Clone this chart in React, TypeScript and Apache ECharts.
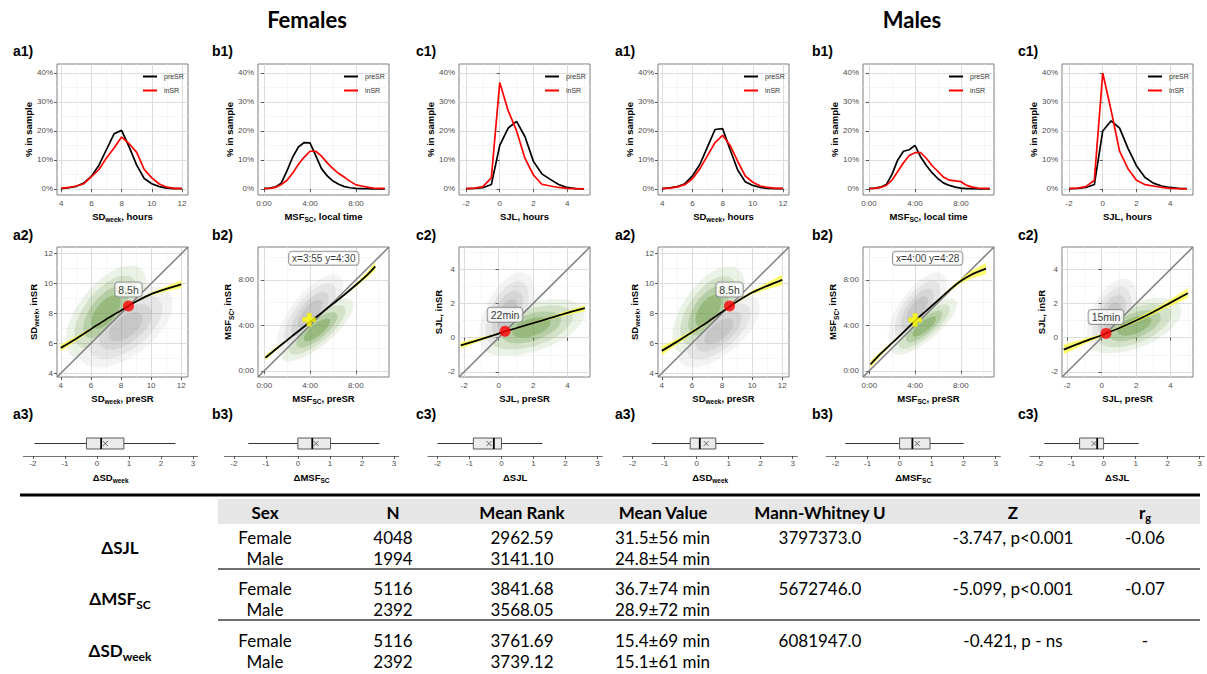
import React, { useEffect, useRef } from "react";
import * as echarts from "echarts";

const FONT = "'Liberation Sans', Arial, sans-serif";
const TFONT = "Lato, 'Open Sans', sans-serif";
const TICK = "#4d4d4d";

// ---------------- Row 1 : distributions (% in sample) ----------------
const sdBins = [4, 4.5, 5, 5.5, 6, 6.5, 7, 7.5, 8, 8.5, 9, 9.5, 10, 10.5, 11, 11.5, 12];
const sdPreF = [0.1, 0.4, 0.9, 2.0, 4.4, 8.2, 13.6, 19.0, 20.2, 14.5, 8.2, 3.6, 1.8, 0.8, 0.3, 0.1, 0.1];
const sdInF = [0.2, 0.5, 1.0, 1.8, 4.2, 6.7, 10.7, 14.1, 17.9, 15.6, 12.6, 6.7, 3.8, 1.7, 0.6, 0.2, 0.2];
const sdPreM = [0.1, 0.4, 0.8, 1.8, 4.5, 8.5, 14.5, 20.5, 20.8, 13.5, 6.5, 2.5, 1.2, 0.5, 0.2, 0.1, 0.1];
const sdInM = [0.1, 0.3, 0.7, 1.5, 3.5, 7.0, 11.5, 16.0, 18.5, 15.0, 9.5, 4.5, 2.3, 1.0, 0.5, 0.2, 0.2];

const msfBins = [0, 0.5, 1, 1.5, 2, 2.5, 3, 3.5, 4, 4.5, 5, 5.5, 6, 6.5, 7, 7.5, 8, 8.5, 9, 9.5, 10, 10.5];
const msfPreF = [0.2, 0.3, 0.7, 2.0, 6.2, 11.0, 14.5, 16.0, 15.9, 11.5, 7.0, 4.5, 2.7, 1.6, 0.8, 0.4, 0.2, 0.1, 0.1, 0, 0, 0];
const msfInF = [0.1, 0.2, 0.5, 1.5, 3.0, 5.5, 8.5, 11.0, 13.0, 13.0, 11.3, 9.0, 7.0, 5.3, 4.0, 2.6, 1.4, 1.0, 0.6, 0.3, 0.2, 0.2];
const msfPreM = [0.2, 0.3, 0.6, 1.5, 5.0, 10.0, 13.0, 13.5, 15.0, 11.0, 8.0, 5.5, 3.5, 2.0, 1.2, 0.6, 0.3, 0.1, 0.1, 0, 0, 0];
const msfInM = [0.1, 0.2, 0.5, 1.2, 3.0, 6.0, 9.0, 11.5, 12.5, 12.5, 10.5, 8.0, 6.0, 4.0, 3.0, 2.8, 2.5, 1.2, 0.6, 0.3, 0.2, 0.2];

const sjlBins = [-2, -1.5, -1, -0.5, 0, 0.5, 1, 1.5, 2, 2.5, 3, 3.5, 4, 4.5, 5];
const sjlPreF = [0.1, 0.2, 0.4, 1.5, 15.0, 21.0, 23.3, 18.0, 9.5, 5.2, 3.3, 1.5, 0.5, 0.1, 0];
const sjlInF = [0.1, 0.3, 0.8, 3.8, 36.7, 27.0, 20.0, 10.5, 4.8, 1.6, 1.0, 0.5, 0.2, 0.1, 0];
const sjlPreM = [0.1, 0.2, 0.5, 1.5, 20.0, 23.5, 21.0, 14.0, 8.0, 4.0, 2.0, 1.0, 0.5, 0.2, 0.1];
const sjlInM = [0.1, 0.3, 0.8, 3.0, 40.0, 27.0, 13.0, 7.0, 3.0, 1.5, 1.0, 0.5, 0.2, 0.1, 0];

// ---------------- Row 2 : preSR vs inSR ----------------
// point clouds summarised as [centreX, centreY, semiMajor, semiMinor, angleDeg]
const cloudFaGreen = [7.0, 8.1, 3.7, 1.8, 52];
const cloudFaGray = [8.3, 7.1, 3.7, 1.9, 38];
const cloudFbGray = [4.0, 5.0, 4.2, 1.7, 52];
const cloudFbGreen = [4.6, 3.6, 4.0, 1.4, 40];
const cloudFcGray = [0.5, 1.4, 2.6, 1.3, 65];
const cloudFcGreen = [1.9, 0.6, 3.2, 1.4, 18];
const cloudMaGreen = [7.1, 8.2, 3.4, 1.7, 55];
const cloudMaGray = [7.8, 6.8, 3.3, 1.5, 40];
const cloudMbGray = [4.2, 5.4, 3.8, 1.6, 55];
const cloudMbGreen = [4.8, 3.9, 3.6, 1.2, 40];
const cloudMcGray = [0.6, 1.3, 2.3, 1.2, 65];
const cloudMcGreen = [1.9, 0.7, 2.9, 1.3, 22];

// loess fits: x, fitted y, half width of confidence band
const fitFaX = [4, 5, 6, 7, 8, 8.5, 9, 10, 11, 12];
const fitFaY = [5.7, 6.3, 6.95, 7.6, 8.2, 8.5, 8.8, 9.3, 9.65, 9.95];
const fitFaW = [0.22, 0.15, 0.1, 0.07, 0.06, 0.06, 0.07, 0.1, 0.16, 0.25];
const fitMaX = [4, 5, 6, 7, 8, 8.5, 9, 10, 11, 12];
const fitMaY = [5.5, 6.1, 6.75, 7.4, 8.1, 8.45, 8.8, 9.4, 9.85, 10.25];
const fitMaW = [0.3, 0.2, 0.12, 0.08, 0.07, 0.07, 0.08, 0.12, 0.22, 0.35];
const fitFbX = [0.1, 1, 2, 3, 4, 5, 6, 7, 8, 9, 9.7];
const fitFbY = [1.15, 1.9, 2.7, 3.5, 4.3, 5.1, 5.9, 6.7, 7.55, 8.45, 9.2];
const fitFbW = [0.22, 0.15, 0.08, 0.05, 0.04, 0.05, 0.07, 0.1, 0.15, 0.25, 0.35];
const fitMbX = [0.1, 1, 2, 3, 4, 5, 6, 7, 8, 9, 10.2];
const fitMbY = [0.55, 1.5, 2.45, 3.4, 4.4, 5.3, 6.2, 7.1, 7.9, 8.5, 9.0];
const fitMbW = [0.3, 0.2, 0.12, 0.07, 0.06, 0.07, 0.09, 0.13, 0.2, 0.35, 0.5];
const fitFcX = [-2.2, -1, 0, 0.37, 1, 2, 3, 4, 5];
const fitFcY = [-0.45, -0.08, 0.24, 0.37, 0.55, 0.85, 1.15, 1.45, 1.72];
const fitFcW = [0.18, 0.1, 0.05, 0.05, 0.05, 0.06, 0.08, 0.12, 0.17];
const fitMcX = [-2.2, -1, 0, 0.25, 1, 2, 3, 4, 5];
const fitMcY = [-0.7, -0.22, 0.14, 0.25, 0.55, 1.0, 1.5, 2.05, 2.6];
const fitMcW = [0.28, 0.15, 0.08, 0.07, 0.08, 0.1, 0.14, 0.2, 0.28];

// highlighted points [x, y] and their labels
const markFa = [8.5, 8.5];
const markMa = [8.5, 8.5];
const markFb = [3.92, 4.5];
const markMb = [4.0, 4.47];
const markFc = [0.37, 0.37];
const markMc = [0.25, 0.25];
const labelFa = "8.5h";
const labelMa = "8.5h";
const labelFb = "x=3:55 y=4:30";
const labelMb = "x=4:00 y=4:28";
const labelFc = "22min";
const labelMc = "15min";
const labelPosFb = [5.2, 9.9];
const labelPosMb = [5.1, 9.9];

// ---------------- Row 3 : change boxplots [min, Q1, median, Q3, max, mean] ----------------
const boxFa = [-1.95, -0.33, 0.13, 0.84, 2.45, 0.26];
const boxFb = [-1.55, 0, 0.45, 1.02, 2.55, 0.57];
const boxFc = [-2.0, -0.88, -0.24, 0, 1.28, -0.39];
const boxMa = [-1.4, -0.2, 0.1, 0.6, 2.1, 0.3];
const boxMb = [-1.7, 0, 0.4, 0.95, 2.0, 0.55];
const boxMc = [-1.85, -0.75, -0.2, 0, 1.1, -0.3];

// ---------------- Table ----------------
const tblHeaders = ["Sex", "N", "Mean Rank", "Mean Value", "Mann-Whitney U", "Z"];
const tblVars = [["ΔSJL", ""], ["ΔMSF", "SC"], ["ΔSD", "week"]];
const tblSex = ["Female", "Male"];
const tblN = [["4048", "1994"], ["5116", "2392"], ["5116", "2392"]];
const tblRank = [["2962.59", "3141.10"], ["3841.68", "3568.05"], ["3761.69", "3739.12"]];
const tblMean = [["31.5±56 min", "24.8±54 min"], ["36.7±74 min", "28.9±72 min"], ["15.4±69 min", "15.1±61 min"]];
const tblU = ["3797373.0", "5672746.0", "6081947.0"];
const tblZ = ["-3.747, p<0.001", "-5.099, p<0.001", "-0.421, p - ns"];
const tblR = ["-0.06", "-0.07", "-"];

// ------------------------------------------------------------
const RICH = {
  b: { fontSize: 9.5, fontWeight: "bold", color: "#000", fontFamily: FONT, lineHeight: 14 },
  s: { fontSize: 6.5, fontWeight: "bold", color: "#000", fontFamily: FONT, lineHeight: 8, verticalAlign: "bottom" },
};
const nm = (a: string, s?: string, r?: string) => `{b|${a}}` + (s ? `{s|${s}}` : "") + (r ? `{b|${r}}` : "");
const hm = (v: number) => `${Math.floor(v)}:${String(Math.round((v - Math.floor(v)) * 60)).padStart(2, "0")}`;

function ellipseHalf(c: number[], above: boolean, scale: number) {
  const [cx, cy, a, b, ang] = c;
  const phi = (ang * Math.PI) / 180;
  const pts: number[][] = [];
  for (let k = 0; k < 48; k++) {
    const t = (2 * Math.PI * k) / 48;
    const ex = a * scale * Math.cos(t);
    const ey = b * scale * Math.sin(t);
    pts.push([cx + ex * Math.cos(phi) - ey * Math.sin(phi), cy + ex * Math.sin(phi) + ey * Math.cos(phi)]);
  }
  const sg = above ? 1 : -1;
  const out: number[][] = [];
  for (let i = 0; i < pts.length; i++) {
    const cur = pts[i];
    const prev = pts[(i + pts.length - 1) % pts.length];
    const dc = sg * (cur[1] - cur[0]);
    const dp = sg * (prev[1] - prev[0]);
    const inter = () => {
      const t = dp / (dp - dc);
      return [prev[0] + t * (cur[0] - prev[0]), prev[1] + t * (cur[1] - prev[1])];
    };
    if (dc >= 0) {
      if (dp < 0) out.push(inter());
      out.push(cur);
    } else if (dp >= 0) out.push(inter());
  }
  return out;
}

function buildOption() {
  const grid: any[] = [];
  const xAxis: any[] = [];
  const yAxis: any[] = [];
  const series: any[] = [];
  const legend: any[] = [];
  const graphic: any[] = [];

  const valAxis = (gi: number, range: number[], maj: number[], fmt: any, name: string, gap: number, isY: boolean) => ({
    type: "value",
    gridIndex: gi,
    min: range[0],
    max: range[1],
    axisLine: { show: false },
    axisTick: { show: true, customValues: maj, length: 3, lineStyle: { color: "#333", width: 0.8 } },
    axisLabel: { show: true, customValues: maj, formatter: fmt, fontSize: 8, color: TICK, fontFamily: FONT, margin: 4 },
    splitLine: { show: true, lineStyle: { color: "#d9d9d9", width: 0.9 } },
    name,
    nameLocation: "middle",
    nameGap: gap,
    nameRotate: isY ? 90 : 0,
    nameTextStyle: { rich: RICH },
  });
  const minorSeries = (gi: number, mx: number[], my: number[]) => ({
    type: "line",
    xAxisIndex: gi,
    yAxisIndex: gi,
    data: [],
    silent: true,
    z: 1,
    markLine: {
      silent: true,
      z: 1,
      symbol: ["none", "none"],
      label: { show: false },
      emphasis: { disabled: true },
      lineStyle: { color: "#efefef", width: 0.6, type: "solid" },
      data: [...mx.map((v) => ({ xAxis: v })), ...my.map((v) => ({ yAxis: v }))],
    },
  });
  const addGrid = (left: number, top: number, width: number, height: number, frame: boolean) => {
    grid.push({
      left, top, width, height, containLabel: false,
      show: frame, borderColor: "#7f7f7f", borderWidth: 1, backgroundColor: "#fff",
    });
    return grid.length - 1;
  };
  const panelLabel = (x: number, y: number, t: string) =>
    graphic.push({ type: "text", x, y, silent: true, style: { text: t, fill: "#000", font: `bold 14px ${FONT}`, verticalAlign: "middle" } });

  const cols = [
    {
      key: "a", r1: [3.72, 12.4], r2: [3.75, 12.45], maj: [4, 6, 8, 10, 12], mnr: [5, 7, 9, 11], fmt: (v: number) => String(v),
      t1: nm("SD", "week", ", hours"), t2x: nm("SD", "week", ", preSR"), t2y: nm("SD", "week", ", inSR"), t3: nm("ΔSD", "week"),
    },
    {
      key: "b", r1: [-0.52, 10.87], r2: [-0.55, 10.9], maj: [0, 4, 8], mnr: [2, 6, 10], fmt: hm,
      t1: nm("MSF", "SC", ", local time"), t2x: nm("MSF", "SC", ", preSR"), t2y: nm("MSF", "SC", ", inSR"), t3: nm("ΔMSF", "SC"),
    },
    {
      key: "c", r1: [-2.42, 5.36], r2: [-2.3, 5.3], maj: [-2, 0, 2, 4], mnr: [-1, 1, 3, 5], fmt: (v: number) => String(v),
      t1: nm("SJL, hours"), t2x: nm("SJL, preSR"), t2y: nm("SJL, inSR"), t3: nm("ΔSJL"),
    },
  ];
  const dists = [
    [[sdBins, sdPreF, sdInF], [msfBins, msfPreF, msfInF], [sjlBins, sjlPreF, sjlInF]],
    [[sdBins, sdPreM, sdInM], [msfBins, msfPreM, msfInM], [sjlBins, sjlPreM, sjlInM]],
  ];
  const clouds = [
    [[cloudFaGreen, cloudFaGray], [cloudFbGreen, cloudFbGray], [cloudFcGreen, cloudFcGray]],
    [[cloudMaGreen, cloudMaGray], [cloudMbGreen, cloudMbGray], [cloudMcGreen, cloudMcGray]],
  ];
  const greenAbove = [true, false, false];
  const fits = [
    [[fitFaX, fitFaY, fitFaW], [fitFbX, fitFbY, fitFbW], [fitFcX, fitFcY, fitFcW]],
    [[fitMaX, fitMaY, fitMaW], [fitMbX, fitMbY, fitMbW], [fitMcX, fitMcY, fitMcW]],
  ];
  const marks = [[markFa, markFb, markFc], [markMa, markMb, markMc]];
  const labels = [[labelFa, labelFb, labelFc], [labelMa, labelMb, labelMc]];
  const labelPosB = [labelPosFb, labelPosMb];
  const boxes = [[boxFa, boxFb, boxFc], [boxMa, boxMb, boxMc]];

  const left12 = [[57, 258, 459], [658, 863, 1062]];
  const left3 = [[23.4, 224.3, 427.9], [623, 826, 1030]];
  const labX = [[13, 212, 416], [615, 812, 1018]];

  const layerScale = [1.0, 0.78, 0.56, 0.36];
  const greenAlpha = [0.12, 0.17, 0.27, 0.4];
  const grayAlpha = [0.1, 0.13, 0.18, 0.24];

  for (let sx = 0; sx < 2; sx++) {
    for (let ci = 0; ci < 3; ci++) {
      const col = cols[ci];
      const L = left12[sx][ci];
      // ---------- row 1 ----------
      {
        const gi = addGrid(L, 64, 131, 131, true);
        xAxis.push(valAxis(gi, col.r1, col.maj, col.fmt, col.t1, 14, false));
        yAxis.push(valAxis(gi, [-2.1, 43.1], [0, 10, 20, 30, 40], (v: number) => v + "%", nm("% in sample"), 15, true));
        series.push(minorSeries(gi, col.mnr, [5, 15, 25, 35]));
        const [bins, pre, ins] = dists[sx][ci];
        series.push({
          type: "line", name: "preSR", xAxisIndex: gi, yAxisIndex: gi, silent: true, z: 5,
          data: bins.map((b, i) => [b, pre[i]]), symbol: "none",
          lineStyle: { color: "#000", width: 1.7 }, itemStyle: { color: "#000" },
        });
        series.push({
          type: "line", name: "inSR", xAxisIndex: gi, yAxisIndex: gi, silent: true, z: 5,
          data: bins.map((b, i) => [b, ins[i]]), symbol: "none",
          lineStyle: { color: "#ff0000", width: 1.7 }, itemStyle: { color: "#ff0000" },
        });
        legend.push({
          data: ["preSR", "inSR"], orient: "vertical", left: L + 86, top: 73, icon: "rect", itemWidth: 14, itemHeight: 2, itemGap: 7,
          padding: 0, selectedMode: false, textStyle: { fontSize: 7, color: "#333", fontFamily: FONT, padding: [0, 0, 0, 2] },
        });
        panelLabel(labX[sx][ci], 51, `${col.key}1)`);
      }
      // ---------- row 2 ----------
      {
        const gi = addGrid(L, 247, 131, 130, true);
        xAxis.push(valAxis(gi, col.r2, col.maj, col.fmt, col.t2x, 14, false));
        yAxis.push(valAxis(gi, col.r2, col.maj, col.fmt, col.t2y, ci === 1 ? 12 : 11, true));
        series.push(minorSeries(gi, col.mnr, col.mnr));
        const [cg, cy] = clouds[sx][ci];
        const layers: any[] = [];
        [cy, cg].forEach((c, k) => {
          const isGreen = k === 1;
          const above = isGreen ? greenAbove[ci] : !greenAbove[ci];
          layerScale.forEach((s, li) => {
            layers.push({
              pts: ellipseHalf(c, above, s),
              outer: li === 0,
              color: isGreen ? `rgba(106,156,69,${greenAlpha[li]})` : `rgba(150,150,150,${grayAlpha[li]})`,
            });
          });
        });
        series.push({
          type: "custom", xAxisIndex: gi, yAxisIndex: gi, silent: true, z: 2, clip: true,
          data: layers.map((l) => [l.pts[0][0], l.pts[0][1]]),
          renderItem: (params: any, api: any) => {
            const l = layers[params.dataIndex];
            return {
              type: "polygon",
              shape: { points: l.pts.map((p: number[]) => api.coord(p)) },
              style: l.outer ? { fill: l.color, shadowBlur: 8, shadowColor: l.color } : { fill: l.color },
            };
          },
        });
        const r = col.r2;
        series.push({
          type: "line", xAxisIndex: gi, yAxisIndex: gi, silent: true, z: 3, symbol: "none",
          data: [[r[0], r[0]], [r[1], r[1]]], lineStyle: { color: "#7f7f7f", width: 1.5 },
        });
        const [fx, fy, fw] = fits[sx][ci];
        series.push({
          type: "custom", xAxisIndex: gi, yAxisIndex: gi, silent: true, z: 4, clip: true,
          data: [[fx[0], fy[0]]],
          renderItem: (params: any, api: any) => {
            const up = fx.map((x, i) => api.coord([x, fy[i] + fw[i]]));
            const lo = fx.map((x, i) => api.coord([x, fy[i] - fw[i]])).reverse();
            return { type: "polygon", shape: { points: up.concat(lo) }, style: { fill: "rgba(255,255,60,0.75)" } };
          },
        });
        series.push({
          type: "line", xAxisIndex: gi, yAxisIndex: gi, silent: true, z: 5, symbol: "none", smooth: 0.3,
          data: fx.map((x, i) => [x, fy[i]]), lineStyle: { color: "#000", width: 1.8 },
        });
        const lblStyle = {
          show: true, backgroundColor: "#fff", borderColor: "#7f7f7f", borderWidth: 1, borderRadius: 3,
          padding: [2, 3, 1, 3], fontSize: 10.5, color: "#000", fontFamily: FONT,
        };
        if (ci === 1) {
          series.push({
            type: "scatter", xAxisIndex: gi, yAxisIndex: gi, silent: true, z: 6,
            data: [marks[sx][ci]], symbol: "path://M3.3,0H6.7V3.3H10V6.7H6.7V10H3.3V6.7H0V3.3H3.3Z", symbolSize: 13,
            itemStyle: { color: "#ffff00", borderColor: "#e0e000", borderWidth: 0.5 },
          });
          series.push({
            type: "scatter", xAxisIndex: gi, yAxisIndex: gi, silent: true, z: 7,
            data: [labelPosB[sx]], symbolSize: 0,
            label: { ...lblStyle, fontSize: 10, position: "inside", formatter: labels[sx][ci] },
          });
        } else {
          series.push({
            type: "scatter", xAxisIndex: gi, yAxisIndex: gi, silent: true, z: 6,
            data: [marks[sx][ci]], symbol: "circle", symbolSize: 11, itemStyle: { color: "#ff0000" },
            label: { ...lblStyle, position: "top", distance: 4, formatter: labels[sx][ci] },
          });
        }
        panelLabel(labX[sx][ci], 235, `${col.key}2)`);
      }
      // ---------- row 3 ----------
      {
        const L3 = left3[sx][ci];
        const gi = addGrid(L3, 431, 174.4, 25, false);
        xAxis.push({
          type: "value", gridIndex: gi, min: -2.3, max: 3.15,
          axisLine: { show: true, onZero: false, lineStyle: { color: "#4d4d4d", width: 0.8 } },
          axisTick: { show: true, customValues: [-2, -1, 0, 1, 2, 3], length: 3, lineStyle: { color: "#333", width: 0.8 } },
          axisLabel: { show: true, customValues: [-2, -1, 0, 1, 2, 3], fontSize: 8, color: TICK, fontFamily: FONT, margin: 3 },
          splitLine: { show: false },
          name: col.t3, nameLocation: "middle", nameGap: 14, nameTextStyle: { rich: RICH },
        });
        yAxis.push({ type: "value", gridIndex: gi, min: -1, max: 1, show: false });
        const bx = boxes[sx][ci];
        series.push({
          type: "custom", xAxisIndex: gi, yAxisIndex: gi, silent: true, z: 5,
          data: [[bx[2], 0]],
          renderItem: (params: any, api: any) => {
            const px = (v: number) => api.coord([v, 0])[0];
            const yc = api.coord([0, 0])[1];
            const h = 5.5;
            const m = px(bx[5]);
            return {
              type: "group",
              children: [
                { type: "line", shape: { x1: px(bx[0]), y1: yc, x2: px(bx[1]), y2: yc }, style: { stroke: "#333", lineWidth: 1 } },
                { type: "line", shape: { x1: px(bx[3]), y1: yc, x2: px(bx[4]), y2: yc }, style: { stroke: "#333", lineWidth: 1 } },
                { type: "rect", shape: { x: px(bx[1]), y: yc - h, width: px(bx[3]) - px(bx[1]), height: 2 * h }, style: { fill: "#ebebeb", stroke: "#595959", lineWidth: 1 } },
                { type: "line", shape: { x1: px(bx[2]), y1: yc - h, x2: px(bx[2]), y2: yc + h }, style: { stroke: "#000", lineWidth: 1.8 } },
                { type: "line", shape: { x1: m - 2.5, y1: yc - 2.5, x2: m + 2.5, y2: yc + 2.5 }, style: { stroke: "#444", lineWidth: 0.8 } },
                { type: "line", shape: { x1: m - 2.5, y1: yc + 2.5, x2: m + 2.5, y2: yc - 2.5 }, style: { stroke: "#444", lineWidth: 0.8 } },
              ],
            };
          },
        });
        panelLabel(labX[sx][ci], 414, `${col.key}3)`);
      }
    }
  }

  // ---------- titles ----------
  graphic.push({ type: "text", x: 307, y: 19, silent: true, style: { text: "Females", fill: "#000", font: `bold 22px ${TFONT}`, align: "center", verticalAlign: "middle" } });
  graphic.push({ type: "text", x: 912, y: 19, silent: true, style: { text: "Males", fill: "#000", font: `bold 22px ${TFONT}`, align: "center", verticalAlign: "middle" } });

  // ---------- table ----------
  const T = (x: number, y: number, text: string, bold = false, align = "center", size = 17) =>
    graphic.push({ type: "text", x, y, silent: true, style: { text, fill: "#000", font: `${bold ? "bold " : ""}${size}px ${TFONT}`, align, verticalAlign: "middle" } });
  graphic.push({ type: "line", silent: true, shape: { x1: 20, y1: 495, x2: 1200, y2: 495 }, style: { stroke: "#000", lineWidth: 3 } });
  graphic.push({ type: "rect", silent: true, shape: { x: 218, y: 499, width: 982, height: 25 }, style: { fill: "#e7e6e6" } });
  const colX = [265, 393, 522, 663, 820, 1013];
  tblHeaders.forEach((h, i) => T(colX[i], 512, h, true));
  graphic.push({
    type: "text", x: 1145, y: 512, silent: true,
    style: {
      text: "{r|r}{g|g}", align: "center", verticalAlign: "middle",
      rich: { r: { fontSize: 17, fontFamily: TFONT, fontWeight: "bold", lineHeight: 22 }, g: { fontSize: 11, fontFamily: TFONT, fontWeight: "bold", lineHeight: 12, verticalAlign: "bottom" } },
    },
  });
  const rowY = [[537, 558], [588, 609], [640, 661]];
  const sepY = [569, 620];
  sepY.forEach((y) => graphic.push({ type: "line", silent: true, shape: { x1: 218, y1: y, x2: 1200, y2: y }, style: { stroke: "#404040", lineWidth: 1.5 } }));
  tblVars.forEach((v, k) => {
    const yMid = (rowY[k][0] + rowY[k][1]) / 2;
    graphic.push({
      type: "text", x: 120, y: yMid, silent: true,
      style: {
        text: `{b|${v[0]}}` + (v[1] ? `{s|${v[1]}}` : ""), align: "center", verticalAlign: "middle",
        rich: { b: { fontSize: 17, fontFamily: TFONT, fontWeight: "bold", lineHeight: 24 }, s: { fontSize: 12, fontFamily: TFONT, fontWeight: "bold", lineHeight: 14, verticalAlign: "bottom" } },
      },
    });
    for (let j = 0; j < 2; j++) {
      const y = rowY[k][j];
      T(colX[0], y, tblSex[j]);
      T(colX[1], y, tblN[k][j]);
      T(colX[2], y, tblRank[k][j]);
      T(615, y, tblMean[k][j], false, "left");
    }
    T(colX[4], rowY[k][0], tblU[k]);
    T(colX[5], rowY[k][0], tblZ[k]);
    T(1145, rowY[k][0], tblR[k]);
  });

  return { animation: false, backgroundColor: "#fff", grid, xAxis, yAxis, series, legend, graphic };
}

export default function App() {
  const ref = useRef<HTMLDivElement>(null);
  useEffect(() => {
    const chart = echarts.init(ref.current!, undefined, { renderer: "svg", width: 1207, height: 674 });
    chart.setOption(buildOption() as any);
    return () => chart.dispose();
  }, []);
  return <div ref={ref} style={{ position: "fixed", left: 0, top: 0, width: 1207, height: 674, background: "#fff" }} />;
}
